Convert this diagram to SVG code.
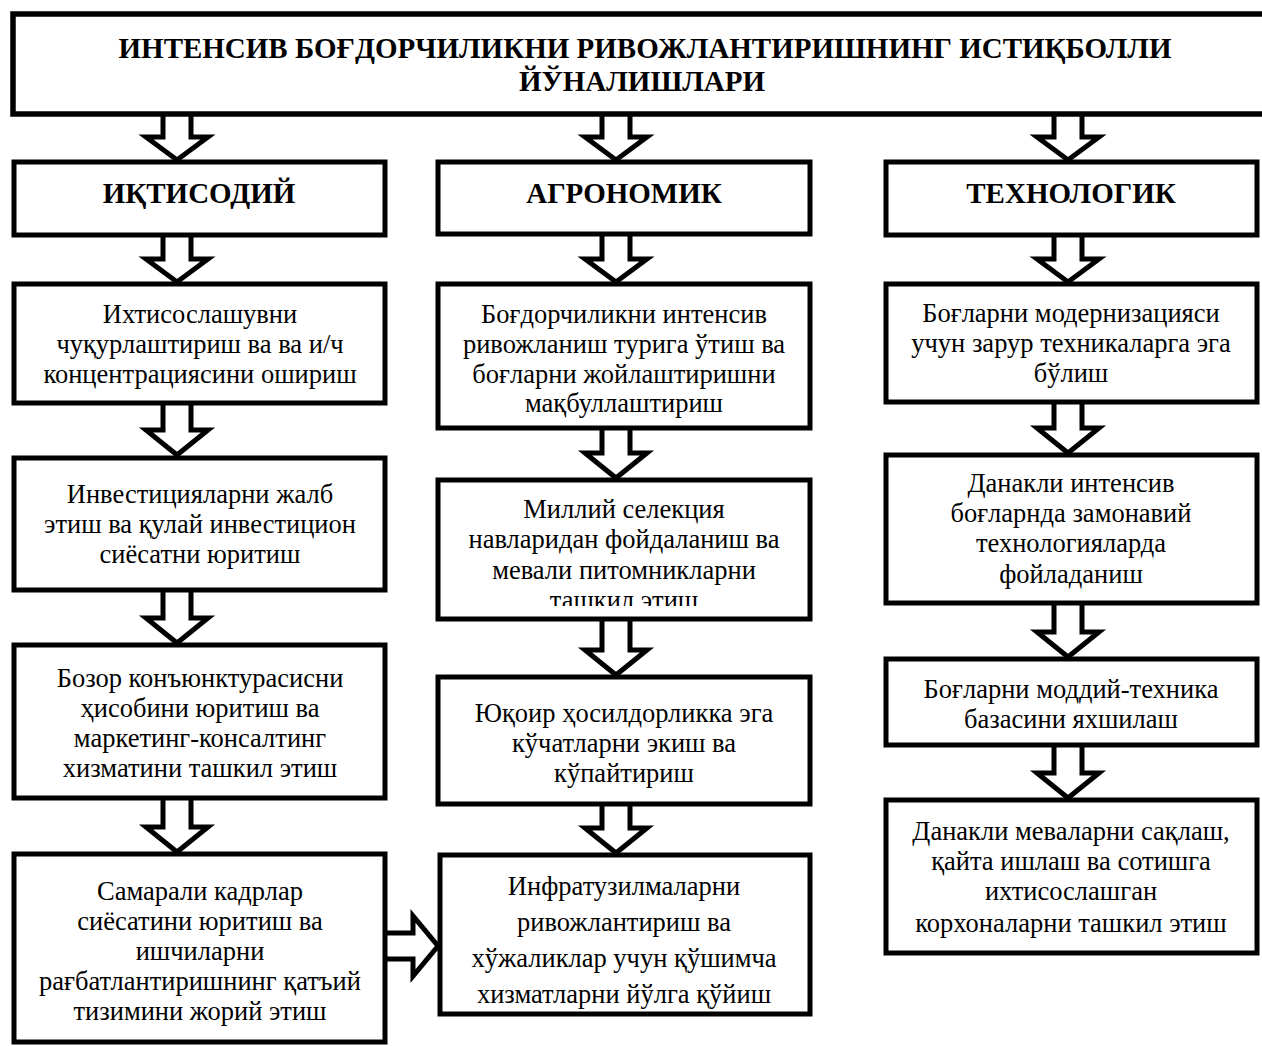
<svg xmlns="http://www.w3.org/2000/svg" width="1262" height="1046" viewBox="0 0 1262 1046">
<style>
.box{fill:#fff;stroke:#000;stroke-width:5}
.tbox{fill:#fff;stroke:#000;stroke-width:5.5}
.t{font-family:"Liberation Serif","Times New Roman",serif;font-size:26.5px;text-anchor:middle;fill:#000}
.h{font-family:"Liberation Serif","Times New Roman",serif;font-size:29px;font-weight:bold;text-anchor:middle;fill:#000}
.arr{fill:none;stroke:#000;stroke-width:5;stroke-linejoin:miter;stroke-miterlimit:10}
</style>
<defs>
<clipPath id="clipM2"><rect x="438" y="480" width="372" height="126"/></clipPath>
</defs>
<rect width="1262" height="1046" fill="#fff"/>
<g id="title">
<rect class="tbox" x="13" y="14" width="1262" height="100"/>
<text class="h" x="645" y="58">ИНТЕНСИВ БОҒДОРЧИЛИКНИ РИВОЖЛАНТИРИШНИНГ ИСТИҚБОЛЛИ</text>
<text class="h" x="642" y="91">ЙЎНАЛИШЛАРИ</text>
</g>
<g id="h-iqtisodiy">
<rect class="box" x="14" y="162" width="371" height="73"/>
<text class="h" x="199" y="203">ИҚТИСОДИЙ</text>
</g>
<g id="h-agronomik">
<rect class="box" x="438" y="162" width="372" height="72"/>
<text class="h" x="624" y="203">АГРОНОМИК</text>
</g>
<g id="h-texnologik">
<rect class="box" x="886" y="162" width="371" height="73"/>
<text class="h" x="1071" y="203">ТЕХНОЛОГИК</text>
</g>
<g id="l1">
<rect class="box" x="14" y="284" width="371" height="119"/>
<text class="t" x="200" y="323">Ихтисослашувни</text>
<text class="t" x="200" y="353">чуқурлаштириш ва ва и/ч</text>
<text class="t" x="200" y="383">концентрациясини ошириш</text>
</g>
<g id="l2">
<rect class="box" x="14" y="458" width="371" height="132"/>
<text class="t" x="200" y="503">Инвестицияларни жалб</text>
<text class="t" x="200" y="533">этиш ва қулай инвестицион</text>
<text class="t" x="200" y="563">сиёсатни юритиш</text>
</g>
<g id="l3">
<rect class="box" x="14" y="645" width="371" height="153"/>
<text class="t" x="200" y="687">Бозор конъюнктурасисни</text>
<text class="t" x="200" y="717">ҳисобини юритиш ва</text>
<text class="t" x="200" y="747">маркетинг-консалтинг</text>
<text class="t" x="200" y="777">хизматини ташкил этиш</text>
</g>
<g id="l4">
<rect class="box" x="14" y="854" width="371" height="188"/>
<text class="t" x="200" y="900">Самарали кадрлар</text>
<text class="t" x="200" y="930">сиёсатини юритиш ва</text>
<text class="t" x="200" y="960">ишчиларни</text>
<text class="t" x="200" y="990">рағбатлантиришнинг қатъий</text>
<text class="t" x="200" y="1020">тизимини жорий этиш</text>
</g>
<g id="m1">
<rect class="box" x="438" y="284" width="372" height="144"/>
<text class="t" x="624" y="323">Боғдорчиликни интенсив</text>
<text class="t" x="624" y="353">ривожланиш турига ўтиш ва</text>
<text class="t" x="624" y="383">боғларни жойлаштиришни</text>
<text class="t" x="624" y="412">мақбуллаштириш</text>
</g>
<g id="m2">
<rect class="box" x="438" y="480" width="372" height="139"/>
<g clip-path="url(#clipM2)">
<text class="t" x="624" y="518">Миллий селекция</text>
<text class="t" x="624" y="548">навларидан фойдаланиш ва</text>
<text class="t" x="624" y="579">мевали питомникларни</text>
<text class="t" x="624" y="609">ташкил этиш</text>
</g>
</g>
<g id="m3">
<rect class="box" x="438" y="677" width="372" height="127"/>
<text class="t" x="624" y="722">Юқоир ҳосилдорликка эга</text>
<text class="t" x="624" y="752">кўчатларни экиш ва</text>
<text class="t" x="624" y="782">кўпайтириш</text>
</g>
<g id="m4">
<rect class="box" x="440" y="855" width="370" height="159"/>
<text class="t" x="624" y="895">Инфратузилмаларни</text>
<text class="t" x="624" y="931">ривожлантириш ва</text>
<text class="t" x="624" y="967">хўжаликлар учун қўшимча</text>
<text class="t" x="624" y="1003">хизматларни йўлга қўйиш</text>
</g>
<g id="r1">
<rect class="box" x="886" y="284" width="371" height="118"/>
<text class="t" x="1071" y="322">Боғларни модернизацияси</text>
<text class="t" x="1071" y="352">учун зарур техникаларга эга</text>
<text class="t" x="1071" y="382">бўлиш</text>
</g>
<g id="r2">
<rect class="box" x="886" y="455" width="371" height="148"/>
<text class="t" x="1071" y="492">Данакли интенсив</text>
<text class="t" x="1071" y="522">боғларнда замонавий</text>
<text class="t" x="1071" y="552">технологияларда</text>
<text class="t" x="1071" y="583">фойладаниш</text>
</g>
<g id="r3">
<rect class="box" x="886" y="659" width="371" height="86"/>
<text class="t" x="1071" y="698">Боғларни моддий-техника</text>
<text class="t" x="1071" y="728">базасини яхшилаш</text>
</g>
<g id="r4">
<rect class="box" x="886" y="800" width="371" height="153"/>
<text class="t" x="1071" y="840">Данакли меваларни сақлаш,</text>
<text class="t" x="1071" y="870">қайта ишлаш ва сотишга</text>
<text class="t" x="1071" y="900">ихтисослашган</text>
<text class="t" x="1071" y="932">корхоналарни ташкил этиш</text>
</g>
<g id="connectors">
<path class="arr" d="M163 114V137H146L177 160L208 137H191V114"/>
<path class="arr" d="M602 114V137H585L616 160L647 137H630V114"/>
<path class="arr" d="M1054 114V137H1037L1068 160L1099 137H1082V114"/>
<path class="arr" d="M163 235V259H146L177 282L208 259H191V235"/>
<path class="arr" d="M163 403V430H146L177 455L208 430H191V403"/>
<path class="arr" d="M163 590V618H146L177 643L208 618H191V590"/>
<path class="arr" d="M163 798V827H146L177 852L208 827H191V798"/>
<path class="arr" d="M602 234V259H585L616 282L647 259H630V234"/>
<path class="arr" d="M602 428V453H585L616 478L647 453H630V428"/>
<path class="arr" d="M602 619V650H585L616 675L647 650H630V619"/>
<path class="arr" d="M602 804V828H585L616 853L647 828H630V804"/>
<path class="arr" d="M1054 235V259H1037L1068 282L1099 259H1082V235"/>
<path class="arr" d="M1054 402V428H1037L1068 453L1099 428H1082V402"/>
<path class="arr" d="M1054 603V632H1037L1068 657L1099 632H1082V603"/>
<path class="arr" d="M1054 745V773H1037L1068 798L1099 773H1082V745"/>
<path class="arr" d="M385 933H413V916L438 946L413 976V959H385"/>
</g>
</svg>
